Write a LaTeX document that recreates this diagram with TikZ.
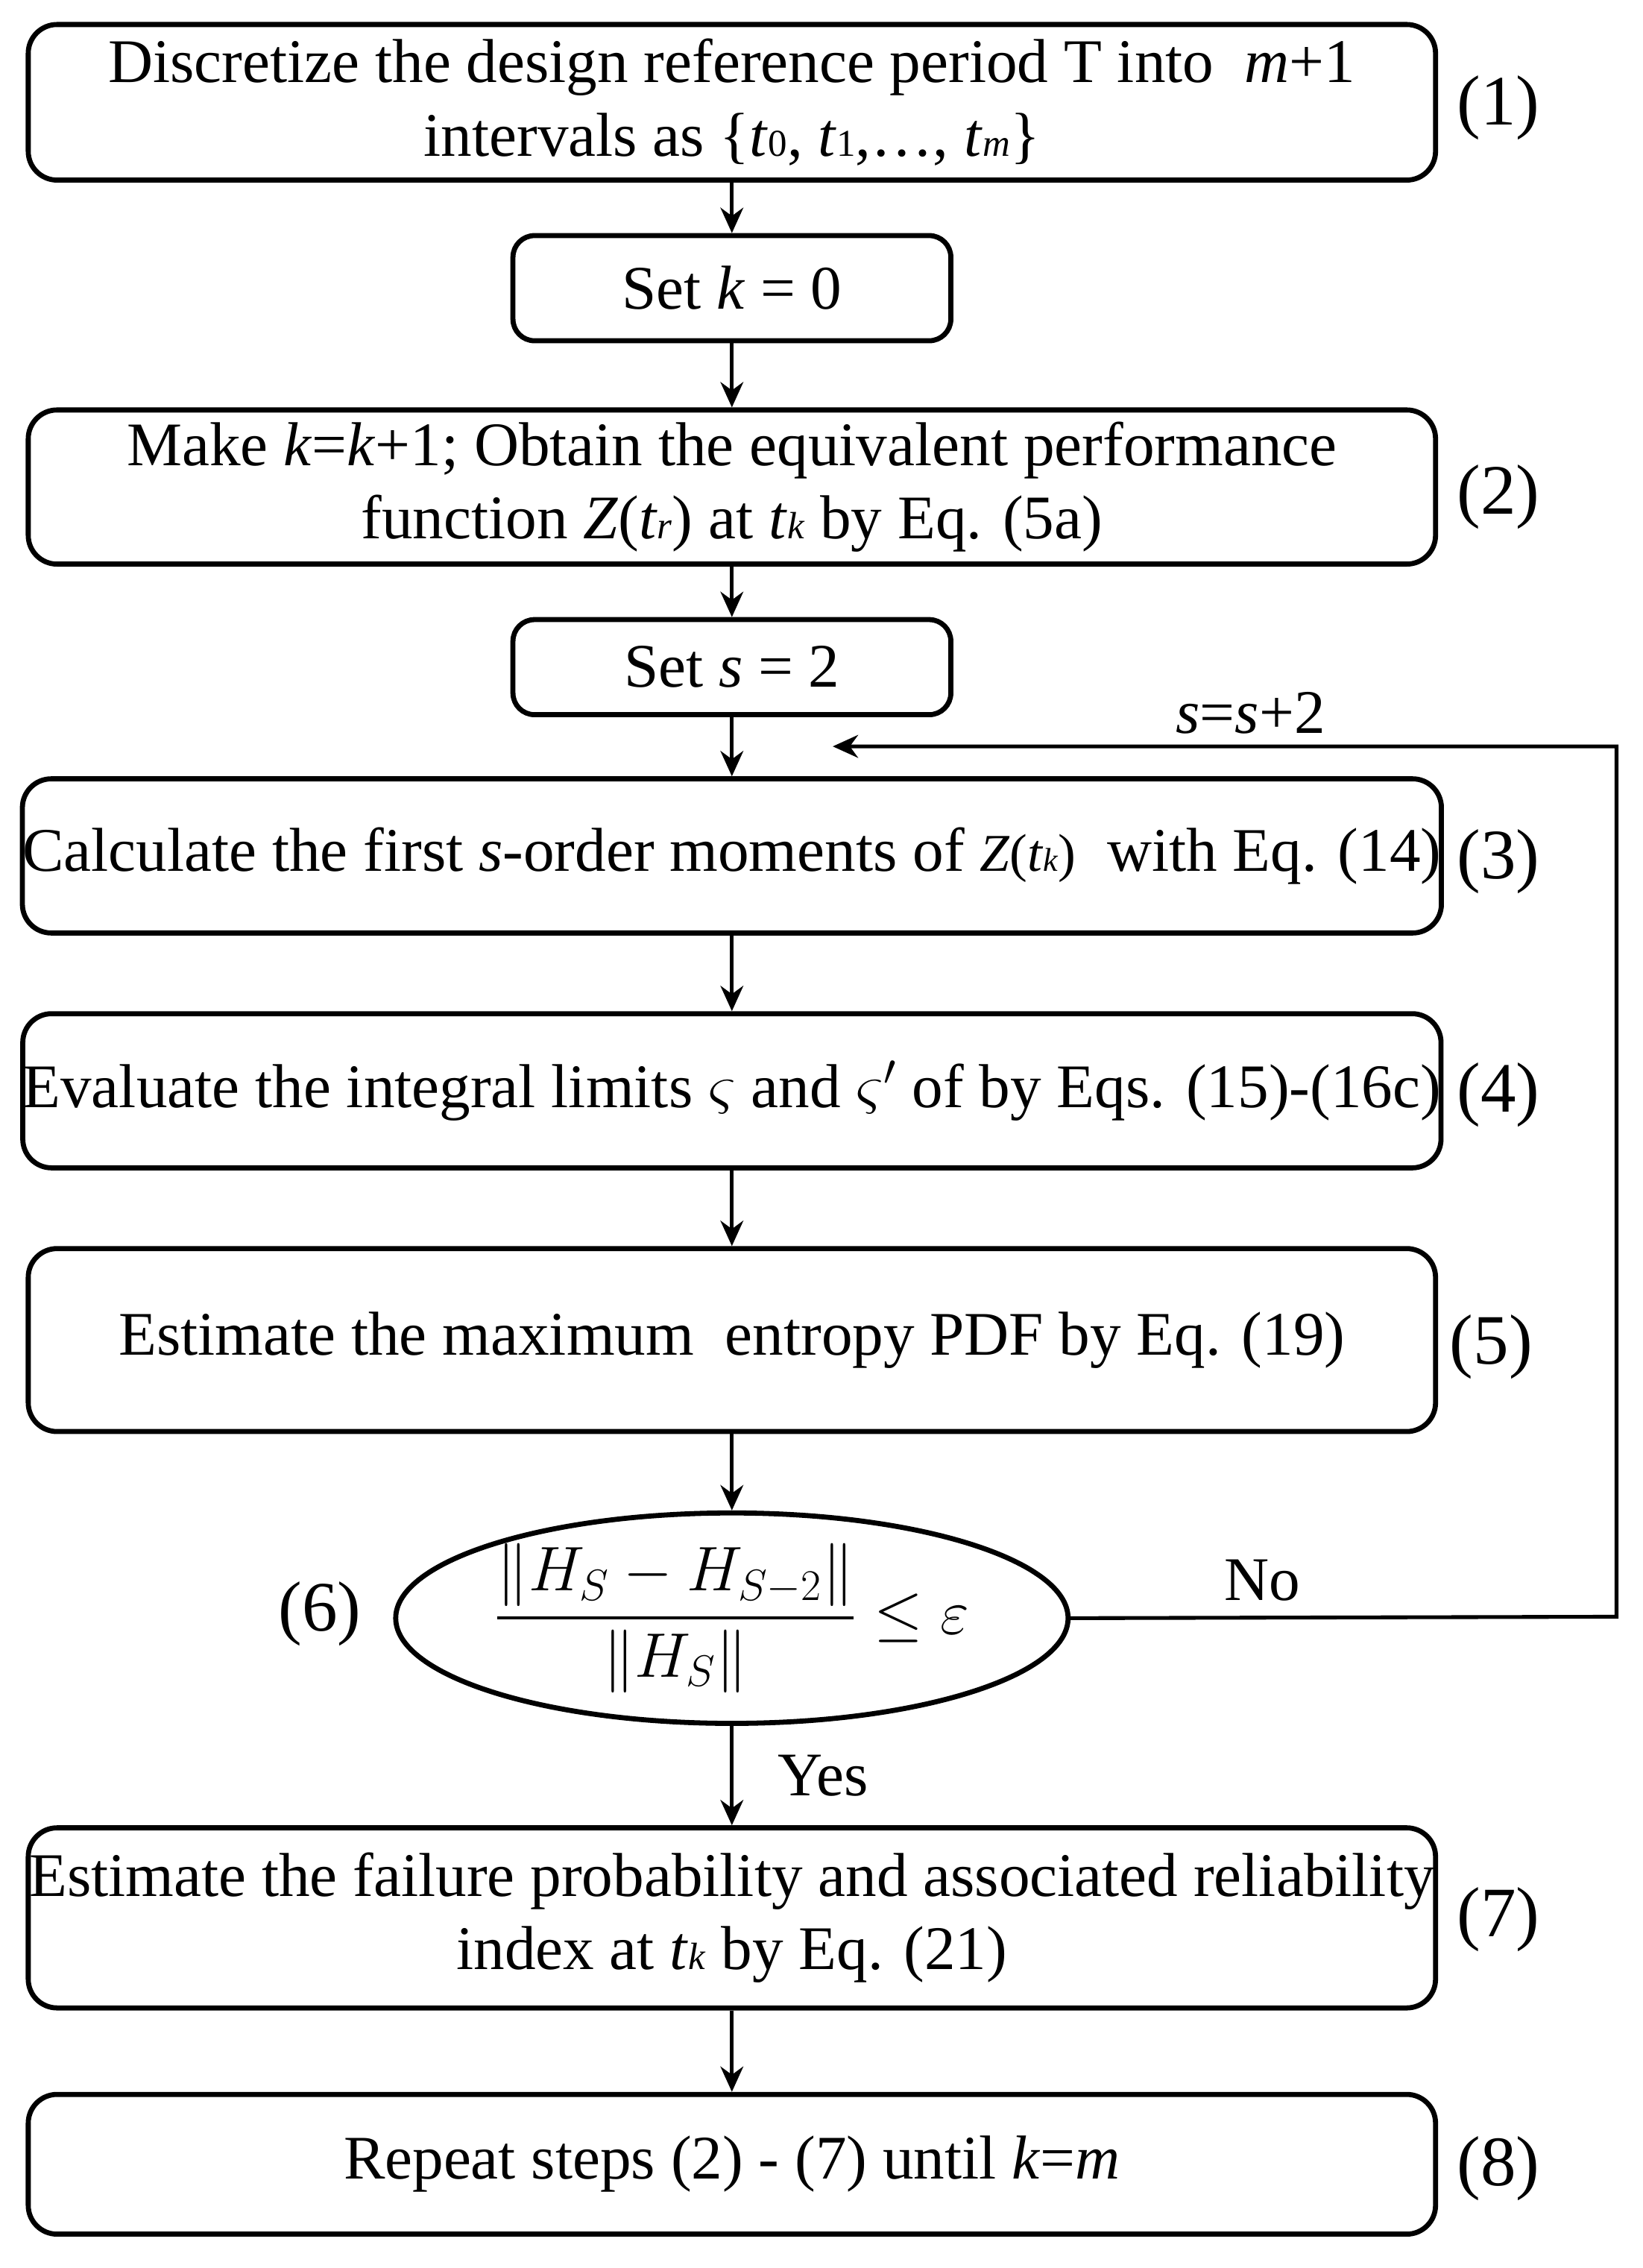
\documentclass[tikz,border=0pt]{standalone}
\usepackage{amsmath}
\usepackage{fontspec}
\setmainfont{Liberation Serif}
\usetikzlibrary{shapes.geometric,arrows.meta}
\newcommand{\sbs}[1]{{\fontsize{15}{16}\selectfont #1}}
\begin{document}
\begin{tikzpicture}[x=0.02cm,y=-0.02cm,
  every node/.style={font=\fontsize{24.5}{29}\selectfont},
  bigbox/.style={draw,line width=2pt,rounded corners=0.4cm,minimum width=19.54cm,align=center,inner sep=0pt},
  smallbox/.style={draw,line width=2pt,rounded corners=0.3cm,minimum width=6.08cm,inner sep=0pt},
  conn/.style={line width=1.5pt,-{Stealth[length=10pt,width=9pt]}},
  lab/.style={font=\fontsize{28}{32}\selectfont}]
\useasboundingbox (0,0) rectangle (1140,1574);
\node[bigbox,minimum height=2.16cm] (b1) at (508,71) {Discretize the design reference period T into \ \textit{m}+1\\intervals as \{\textit{t}\sbs{0}, \textit{t}\sbs{1},\dots, \textit{t}\sbs{\textit{m}}\}};
\node[smallbox,minimum height=1.46cm] (k0) at (508,200) {Set \textit{k} = 0};
\node[bigbox,minimum height=2.14cm] (b2) at (508,338) {Make \textit{k}=\textit{k}+1; Obtain the equivalent performance\\function \textit{Z}(\textit{t}\sbs{\textit{r}}) at \textit{t}\sbs{\textit{k}} by Eq. (5a)};
\node[smallbox,minimum height=1.32cm] (s2) at (508,463) {Set \textit{s} = 2};
\node[bigbox,minimum height=2.14cm] (b3) at (508,594) {Calculate the first \textit{s}-order moments of {\fontsize{21}{24}\selectfont\textit{Z}(\textit{t}{\fontsize{13}{14}\selectfont\textit{k}})} \ with Eq. (14)};
\node[bigbox,minimum height=2.14cm] (b4) at (508,757) {Evaluate the integral limits $\varsigma$ and $\varsigma'$ of by Eqs. (15)-(16c)};
\node[bigbox,minimum height=2.54cm] (b5) at (508,930) {Estimate the maximum \ entropy PDF by Eq. (19)};
\node[ellipse,draw,line width=2pt,minimum width=9.32cm,minimum height=2.2cm,inner sep=0pt,font=\fontsize{26}{30}\selectfont] (e6) at (508,1123) {$\dfrac{\|H_S-H_{S-2}\|}{\|H_S\|}\le\varepsilon$};
\node[bigbox,minimum height=2.5cm] (b7) at (508,1331) {Estimate the failure probability and associated reliability\\index at \textit{t}\sbs{\textit{k}} by Eq. (21)};
\node[bigbox,minimum height=1.94cm] (b8) at (508,1502) {Repeat steps (2) - (7) until \textit{k}=\textit{m}};
\node[lab] (l1) at (1040,75) {(1)};
\node[lab] (l2) at (1040,345) {(2)};
\node[lab] (l3) at (1040,598) {(3)};
\node[lab] (l4) at (1040,760) {(4)};
\node[lab] (l5) at (1035,935) {(5)};
\node[lab] (l6) at (222,1120) {(6)};
\node[lab] (l7) at (1040,1332) {(7)};
\node[lab] (l8) at (1040,1505) {(8)};
\draw[conn] (b1) -- (k0);
\draw[conn] (k0) -- (b2);
\draw[conn] (b2) -- (s2);
\draw[conn] (s2) -- (b3);
\draw[conn] (b3) -- (b4);
\draw[conn] (b4) -- (b5);
\draw[conn] (b5) -- (e6);
\draw[conn] (e6) -- node[right,xshift=0.5cm] (yes) {Yes} (b7);
\draw[conn] (b7) -- (b8);
\coordinate (c1) at (1122,1122);
\coordinate (c2) at (1122,518);
\coordinate (c3) at (578,518);
\draw[conn] (e6.east) -- (c1) -- (c2) -- (c3);
\node (no) at (876,1097) {No};
\node (ss) at (868,495) {\textit{s}=\textit{s}+2};
\end{tikzpicture}
\end{document}
